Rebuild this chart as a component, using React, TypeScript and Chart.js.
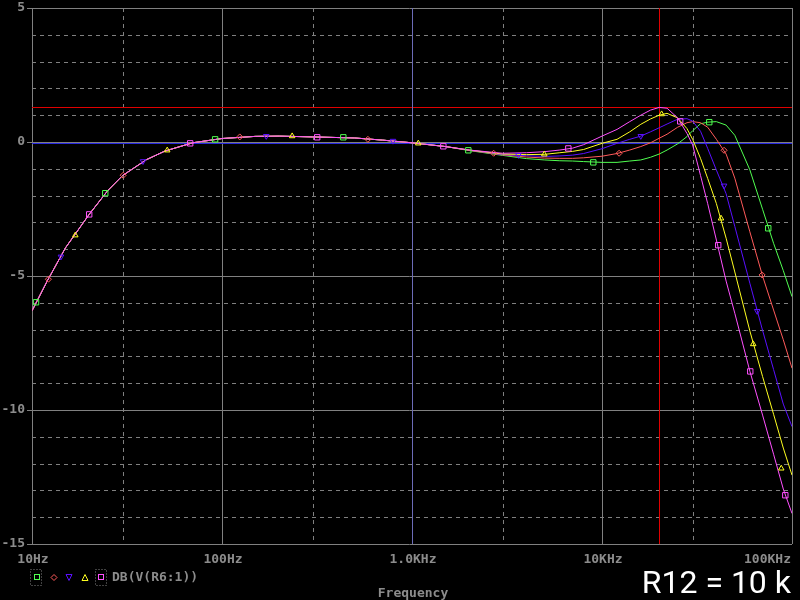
import React, { useEffect, useRef } from "react";
import { Chart, registerables } from "chart.js";

Chart.register(...registerables);

// Frequencies (Hz) at which the traces are sampled
const freqs = [10, 12, 15, 20, 25, 30, 40, 50, 70, 100, 150, 200, 300, 500, 700, 1000, 1500, 2000,
  3000, 4000, 5000, 6000, 7000, 8000, 10000, 12000, 14000, 16000, 18000, 20000, 22000, 25000,
  28000, 30000, 33000, 36000, 40000, 45000, 50000, 60000, 70000, 80000, 90000, 100000];

// DB(V(R6:1)) for five parameter steps
const magentaDb = [-6.3, -5.2, -3.95, -2.7, -1.82, -1.25, -0.66, -0.34, -0.03, 0.13, 0.21, 0.22, 0.19, 0.15, 0.07, -0.03, -0.17, -0.3,
  -0.42, -0.4, -0.36, -0.3, -0.23, -0.1, 0.22, 0.47, 0.76, 1.0, 1.19, 1.29, 1.26, 0.9, 0.32, -0.11, -1.25, -2.3, -3.66, -5.19, -6.39, -8.55, -10.19, -11.65, -12.95, -13.86];
const yellowDb = [-6.3, -5.2, -3.95, -2.7, -1.82, -1.25, -0.66, -0.34, -0.03, 0.13, 0.21, 0.22, 0.19, 0.15, 0.07, -0.03, -0.17, -0.3,
  -0.45, -0.47, -0.46, -0.4, -0.35, -0.28, -0.05, 0.1, 0.38, 0.66, 0.86, 1.0, 1.07, 0.9, 0.5, 0.1, -0.61, -1.36, -2.3, -3.59, -4.85, -7.05, -8.75, -10.16, -11.42, -12.43];
const blueDb = [-6.3, -5.2, -3.95, -2.7, -1.82, -1.25, -0.66, -0.34, -0.03, 0.13, 0.21, 0.22, 0.19, 0.15, 0.07, -0.03, -0.17, -0.3,
  -0.47, -0.51, -0.54, -0.52, -0.49, -0.43, -0.25, -0.05, 0.1, 0.22, 0.38, 0.53, 0.67, 0.85, 0.87, 0.78, 0.4, -0.24, -1.05, -1.93, -3.15, -5.27, -7.03, -8.49, -9.78, -10.62];
const redDb = [-6.3, -5.2, -3.95, -2.7, -1.82, -1.25, -0.66, -0.34, -0.03, 0.13, 0.21, 0.22, 0.19, 0.15, 0.07, -0.03, -0.17, -0.31,
  -0.48, -0.56, -0.6, -0.61, -0.61, -0.59, -0.53, -0.43, -0.3, -0.17, -0.03, 0.14, 0.29, 0.55, 0.72, 0.76, 0.72, 0.55, 0.1, -0.45, -1.35, -3.35, -5.0, -6.27, -7.38, -8.44];
const greenDb = [-6.3, -5.2, -3.95, -2.7, -1.82, -1.25, -0.66, -0.34, -0.03, 0.13, 0.21, 0.22, 0.19, 0.15, 0.07, -0.03, -0.17, -0.32,
  -0.5, -0.62, -0.67, -0.7, -0.71, -0.73, -0.76, -0.76, -0.71, -0.67, -0.57, -0.45, -0.3, -0.07, 0.2, 0.42, 0.68, 0.74, 0.76, 0.63, 0.25, -1.04, -2.51, -3.78, -4.8, -5.77];

// Marker positions (frequency, dB) for each trace
const greenMarkF = [10.5, 24.3, 92, 435, 1979, 9000, 36700, 75000];
const greenMarkDb = [-5.98, -1.91, 0.1, 0.175, -0.31, -0.76, 0.74, -3.22];
const redMarkF = [12.2, 30.2, 124, 586, 2690, 12300, 43900, 69600];
const redMarkDb = [-5.12, -1.24, 0.19, 0.1, -0.42, -0.42, -0.31, -4.96];
const blueMarkF = [14.2, 38.4, 171, 794, 3630, 16000, 43900, 65600];
const blueMarkDb = [-4.28, -0.72, 0.22, 0.04, -0.49, 0.22, -1.63, -6.31];
const yellowMarkF = [16.9, 51.5, 234, 1079, 4970, 20600, 42300, 62500, 87800];
const yellowMarkDb = [-3.48, -0.31, 0.22, -0.05, -0.46, 1.04, -2.85, -7.54, -12.18];
const magentaMarkF = [20, 68, 317, 1462, 6650, 25800, 40900, 60300, 92200];
const magentaMarkDb = [-2.7, -0.05, 0.175, -0.16, -0.24, 0.77, -3.85, -8.56, -13.18];

// Axis ticks
const xMajorTicks = [10, 100, 1000, 10000, 100000];
const xMajorLabels = ["10Hz", "100Hz", "1.0KHz", "10KHz", "100KHz"];
const xMinorTicks = [30, 300, 3000, 30000];
const yMajorTicks = [5, 0, -5, -10, -15];
const yMajorLabels = ["5", "0", "-5", "-10", "-15"];
const yMinorTicks = [4, 3, 2, 1, -1, -2, -3, -4, -6, -7, -8, -9, -11, -12, -13, -14];

// Cursors
const cursorRedF = 20000;
const cursorRedDb = 1.3;
const cursorBlueF = 1000;
const cursorBlueDb = -0.03;

const traceLabel = "DB(V(R6:1))";
const xTitle = "Frequency";
const note = "R12 = 10 k";

const GREEN = "#50ff50";
const RED = "#ff5a5a";
const BLUE = "#5a10ff";
const YELLOW = "#ffff20";
const MAGENTA = "#ff50ff";
const GRID = "#808080";
const TEXT = "#8c8c8c";
const FONT = 'bold 13px "DejaVu Sans Mono"';

const px = (v: number) => Math.round(v) + 0.5;

const gridPlugin = {
  id: "pspiceGrid",
  beforeDraw(chart: any) {
    const ctx = chart.ctx;
    ctx.save();
    ctx.fillStyle = "#000";
    ctx.fillRect(0, 0, chart.width, chart.height);
    ctx.restore();
  },
  beforeDatasetsDraw(chart: any) {
    const ctx = chart.ctx;
    const xs = chart.scales.x;
    const ys = chart.scales.y;
    const a = chart.chartArea;
    ctx.save();
    ctx.lineWidth = 1;
    ctx.strokeStyle = GRID;
    // minor dashed
    ctx.setLineDash([4, 4]);
    ctx.beginPath();
    xMinorTicks.forEach((f) => {
      const x = px(xs.getPixelForValue(f));
      ctx.moveTo(x, a.top);
      ctx.lineTo(x, a.bottom);
    });
    yMinorTicks.forEach((v) => {
      const y = px(ys.getPixelForValue(v));
      ctx.moveTo(a.left, y);
      ctx.lineTo(a.right, y);
    });
    ctx.stroke();
    // major solid
    ctx.setLineDash([]);
    ctx.beginPath();
    xMajorTicks.forEach((f) => {
      const x = px(xs.getPixelForValue(f));
      ctx.moveTo(x, a.top);
      ctx.lineTo(x, a.bottom);
    });
    yMajorTicks.forEach((v) => {
      const y = px(ys.getPixelForValue(v));
      ctx.moveTo(a.left - 5, y);
      ctx.lineTo(a.right, y);
    });
    ctx.stroke();

    // cursors
    ctx.strokeStyle = "#e00000";
    ctx.beginPath();
    const ry = px(ys.getPixelForValue(cursorRedDb));
    ctx.moveTo(a.left, ry);
    ctx.lineTo(a.right, ry);
    const rx = px(xs.getPixelForValue(cursorRedF));
    ctx.moveTo(rx, a.top);
    ctx.lineTo(rx, a.bottom);
    ctx.stroke();
    ctx.strokeStyle = "#2828e0";
    ctx.beginPath();
    const by = px(ys.getPixelForValue(cursorBlueDb));
    ctx.moveTo(a.left, by);
    ctx.lineTo(a.right, by);
    ctx.stroke();
    ctx.strokeStyle = "#6c6cb8";
    ctx.beginPath();
    const bx = px(xs.getPixelForValue(cursorBlueF));
    ctx.moveTo(bx, a.top);
    ctx.lineTo(bx, a.bottom);
    ctx.stroke();

    // labels
    ctx.fillStyle = TEXT;
    ctx.font = FONT;
    ctx.textAlign = "right";
    ctx.textBaseline = "middle";
    yMajorTicks.forEach((v, i) => {
      ctx.fillText(yMajorLabels[i], a.left - 7, ys.getPixelForValue(v));
    });
    xMajorTicks.forEach((f, i) => {
      const x = xs.getPixelForValue(f);
      const last = i === xMajorTicks.length - 1;
      ctx.textAlign = last ? "right" : "center";
      ctx.fillText(xMajorLabels[i], last ? x - 1 : x + 1, a.bottom + 16);
    });
    ctx.textAlign = "center";
    ctx.fillText(xTitle, (a.left + a.right) / 2 + 1, a.bottom + 50);
    ctx.restore();
  },
  afterDraw(chart: any) {
    const ctx = chart.ctx;
    const a = chart.chartArea;
    ctx.save();
    const ly = a.bottom + 33.5;
    // dotted selection boxes
    ctx.strokeStyle = GRID;
    ctx.lineWidth = 1;
    ctx.setLineDash([1, 2]);
    ctx.strokeRect(30.5, ly - 8, 11, 16);
    ctx.strokeRect(95.5, ly - 8, 11, 16);
    ctx.setLineDash([]);
    // symbols
    ctx.strokeStyle = GREEN;
    ctx.strokeRect(34.5, ly - 3, 5, 5);
    ctx.strokeStyle = RED;
    ctx.beginPath();
    ctx.moveTo(54, ly - 3);
    ctx.lineTo(57, ly);
    ctx.lineTo(54, ly + 3);
    ctx.lineTo(51, ly);
    ctx.closePath();
    ctx.stroke();
    ctx.strokeStyle = BLUE;
    ctx.beginPath();
    ctx.moveTo(66, ly - 3);
    ctx.lineTo(72, ly - 3);
    ctx.lineTo(69, ly + 3);
    ctx.closePath();
    ctx.stroke();
    ctx.strokeStyle = YELLOW;
    ctx.beginPath();
    ctx.moveTo(85, ly - 3);
    ctx.lineTo(88, ly + 3);
    ctx.lineTo(82, ly + 3);
    ctx.closePath();
    ctx.stroke();
    ctx.strokeStyle = MAGENTA;
    ctx.strokeRect(98.5, ly - 3, 5, 5);
    ctx.fillStyle = TEXT;
    ctx.font = FONT;
    ctx.textAlign = "left";
    ctx.textBaseline = "middle";
    ctx.fillText(traceLabel, 112, ly);
    // big note
    ctx.fillStyle = "#ffffff";
    ctx.font = '32px Roboto';
    ctx.textAlign = "right";
    ctx.textBaseline = "alphabetic";
    ctx.fillText(note, 791, 593);
    ctx.restore();
  },
};

function lineDs(label: string, values: number[], color: string, order: number) {
  return {
    label,
    data: freqs.map((f, i) => ({ x: f, y: values[i] })),
    showLine: true,
    borderColor: color,
    backgroundColor: color,
    borderWidth: 1,
    pointRadius: 0,
    tension: 0,
    order,
  };
}

function markDs(label: string, fs: number[], vs: number[], color: string, style: string, rot: number, r: number) {
  return {
    label,
    data: fs.map((f, i) => ({ x: f, y: vs[i] })),
    showLine: false,
    borderColor: color,
    backgroundColor: "rgba(0,0,0,0)",
    pointBorderColor: color,
    pointBackgroundColor: "rgba(0,0,0,0)",
    pointBorderWidth: 1,
    pointStyle: style,
    pointRotation: rot,
    pointRadius: r,
    order: 0,
  };
}

export default function App() {
  const ref = useRef<HTMLCanvasElement>(null);
  useEffect(() => {
    if (!ref.current) return;
    const chart = new Chart(ref.current, {
      type: "scatter",
      data: {
        datasets: [
          markDs("mg", magentaMarkF, magentaMarkDb, MAGENTA, "rect", 0, 3.8),
          markDs("ym", yellowMarkF, yellowMarkDb, YELLOW, "triangle", 0, 3.2),
          markDs("bm", blueMarkF, blueMarkDb, BLUE, "triangle", 180, 3.2),
          markDs("rm", redMarkF, redMarkDb, RED, "rectRot", 0, 3),
          markDs("gm", greenMarkF, greenMarkDb, GREEN, "rect", 0, 3.8),
          lineDs("magenta", magentaDb, MAGENTA, 1),
          lineDs("yellow", yellowDb, YELLOW, 2),
          lineDs("blue", blueDb, BLUE, 3),
          lineDs("red", redDb, RED, 4),
          lineDs("green", greenDb, GREEN, 5),
        ] as any,
      },
      options: {
        responsive: false,
        animation: false,
        layout: { padding: { left: 32, top: 8, right: 8, bottom: 56 } },
        scales: {
          x: { type: "logarithmic", min: 10, max: 100000, display: false },
          y: { type: "linear", min: -15, max: 5, display: false },
        },
        plugins: { legend: { display: false }, tooltip: { enabled: false } },
        events: [],
      },
      plugins: [gridPlugin],
    });
    return () => chart.destroy();
  }, []);
  return (
    <div style={{ position: "absolute", left: 0, top: 0, width: 800, height: 600, background: "#000" }}>
      <canvas ref={ref} width={800} height={600} style={{ display: "block" }} />
    </div>
  );
}
